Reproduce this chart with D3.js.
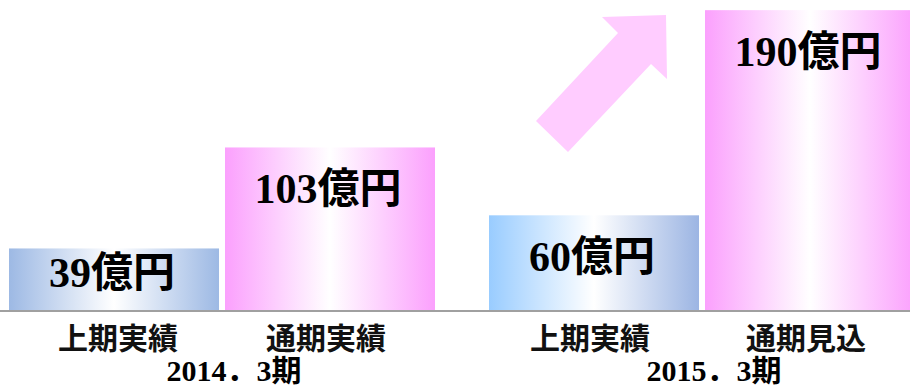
<!DOCTYPE html>
<html>
<head>
<meta charset="utf-8">
<script src="https://cdn.jsdelivr.net/npm/d3@7"></script>
<style>
  body { margin: 0; background: #fff; }
  svg { display: block; }
</style>
</head>
<body>
<svg id="chart" width="910" height="389"></svg>
<script>
// data
let periods = ["2014．3期", "2015．3期"]
let subLabels = [["上期実績", "通期実績"], ["上期実績", "通期見込"]]
let values = [[39, 103], [60, 190]]
let valueLabels = [["39億円", "103億円"], ["60億円", "190億円"]]

let bars = []
periods.forEach((p, i) => {
  subLabels[i].forEach((s, j) => {
    bars.push({ period: p, key: j, label: s, value: values[i][j], text: valueLabels[i][j], gi: i })
  })
})

let svg = d3.select("#chart")
let base = 310

let x0 = d3.scaleBand().domain(periods).range([9, 915]).paddingInner(0.1125)
let x1 = d3.scaleBand().domain([0, 1]).range([0, x0.bandwidth()]).paddingInner(0.0278)
let y = d3.scaleLinear().domain([0, 192]).range([base, 7])

let defs = svg.append("defs")
let grads = [
  { id: "g0", c0: "#9db9e4", c1: "#9db9e4" },
  { id: "g1", c0: "#fba0fd", c1: "#fba0fd" },
  { id: "g2", c0: "#99ccff", c1: "#9cb5e3" },
  { id: "g3", c0: "#fba0fd", c1: "#fba0fd" }
]
grads.forEach((g) => {
  let lg = defs.append("linearGradient").attr("id", g.id)
    .attr("x1", "0%").attr("x2", "100%").attr("y1", "0%").attr("y2", "0%")
  lg.append("stop").attr("offset", "0%").attr("stop-color", g.c0)
  lg.append("stop").attr("offset", "50%").attr("stop-color", "#ffffff")
  lg.append("stop").attr("offset", "100%").attr("stop-color", g.c1)
})

// arrow decoration
svg.append("path")
  .attr("d", "M536,121 L618,33 L602,17 L666,15 L667,79 L651,64 L568,152 Z")
  .attr("fill", "#ffccff")

let bx = (d) => x0(d.period) + x1(d.key)

svg.selectAll(".bar")
  .data(bars)
  .enter().append("rect")
  .attr("class", "bar")
  .attr("x", bx)
  .attr("y", (d) => y(d.value))
  .attr("width", x1.bandwidth())
  .attr("height", (d) => base - y(d.value))
  .attr("fill", (d, i) => "url(#g" + i + ")")

svg.append("line")
  .attr("x1", 0).attr("x2", 910)
  .attr("y1", base + 1).attr("y2", base + 1)
  .attr("stroke", "#a0a0a0")
  .attr("stroke-width", 2)

let font = "'Liberation Serif', 'Noto Sans CJK JP', serif"

svg.selectAll(".val")
  .data(bars)
  .enter().append("text")
  .attr("class", "val")
  .attr("x", (d) => bx(d) + x1.bandwidth() / 2 - 2)
  .attr("y", (d) => Math.min(y(d.value) + 56, base - 23))
  .attr("text-anchor", "middle")
  .attr("font-family", font)
  .attr("font-weight", "bold")
  .attr("font-size", "42px")
  .attr("fill", "#000")
  .text((d) => d.text)

svg.selectAll(".cat")
  .data(bars)
  .enter().append("text")
  .attr("class", "cat")
  .attr("x", (d) => bx(d) + x1.bandwidth() / 2 + (d.gi == 0 && d.key == 0 ? 4 : -4))
  .attr("y", 349)
  .attr("text-anchor", "middle")
  .attr("font-family", font)
  .attr("font-weight", "bold")
  .attr("font-size", "30px")
  .attr("fill", "#111")
  .text((d) => d.label)

svg.selectAll(".period")
  .data(periods)
  .enter().append("text")
  .attr("class", "period")
  .attr("x", (d) => x0(d) + x0.bandwidth() / 2 + 12)
  .attr("y", 381)
  .attr("text-anchor", "middle")
  .attr("font-family", font)
  .attr("font-weight", "bold")
  .attr("font-size", "30px")
  .attr("fill", "#000")
  .text((d) => d)
</script>
</body>
</html>
